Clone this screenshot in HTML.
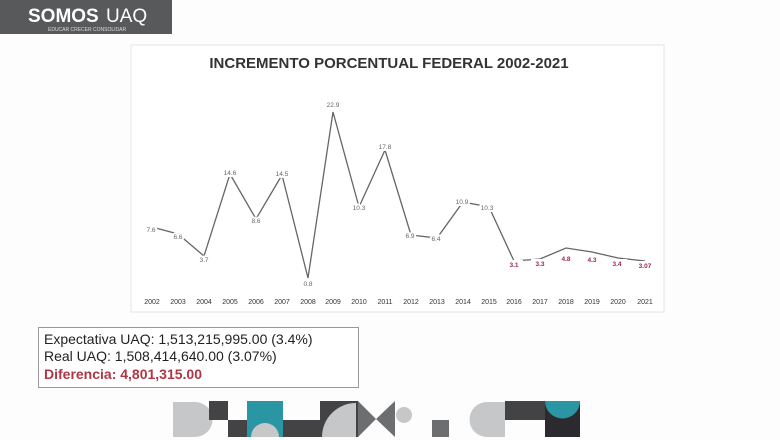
<!DOCTYPE html>
<html><head><meta charset="utf-8"><style>
body{margin:0;width:780px;height:440px;background:#fdfdfd;overflow:hidden;font-family:"Liberation Sans",sans-serif}
</style></head><body>
<svg width="780" height="440" viewBox="0 0 780 440" xmlns="http://www.w3.org/2000/svg" style="position:absolute;left:0;top:0">
<rect x="0" y="0" width="172" height="34" fill="#58595b"/>
<text x="28" y="22" font-family="Liberation Sans,sans-serif" font-weight="bold" font-size="19" fill="#fff">SOMOS</text>
<text x="106" y="22" font-family="Liberation Sans,sans-serif" font-size="19" fill="#fff">UAQ</text>
<text x="48" y="31" font-family="Liberation Sans,sans-serif" font-size="5" fill="#ddd">EDUCAR CRECER CONSOLIDAR</text>
<rect x="131" y="45" width="533" height="267" fill="#fff" stroke="#e4e4e4"/>
<text x="389" y="68" text-anchor="middle" font-family="Liberation Sans,sans-serif" font-weight="bold" font-size="15" fill="#333">INCREMENTO PORCENTUAL FEDERAL 2002-2021</text>
<polyline fill="none" stroke="#666" stroke-width="1.3" points="152,227 178,234 204,256 230,174 256,219 282,175 308,278 333,112 359,207 385,150 411,235 437,238 463,202 489,207 514,261 540,259 566,248 592,252 618,258 645,261"/>
<g font-family="Liberation Sans,sans-serif" font-size="6.5" fill="#666" text-anchor="middle" stroke="#fff" stroke-width="4" paint-order="stroke">
<text x="151" y="232">7.6</text><text x="178" y="239">6.6</text><text x="204" y="262">3.7</text>
<text x="230" y="175">14.6</text><text x="256" y="223">8.6</text><text x="282" y="176">14.5</text>
<text x="308" y="286">0.8</text><text x="333" y="107">22.9</text><text x="359" y="210">10.3</text>
<text x="385" y="149">17.8</text><text x="410" y="238">6.9</text><text x="436" y="241">6.4</text>
<text x="462" y="204">10.9</text><text x="487" y="210">10.3</text>
</g>
<g font-family="Liberation Sans,sans-serif" font-size="6.5" font-weight="bold" fill="#a0284a" text-anchor="middle">
<rect x="505" y="260" width="18" height="8" fill="#fff"/><text x="514" y="267">3.1</text>
<rect x="531" y="259" width="18" height="8" fill="#fff"/><text x="540" y="266">3.3</text>
<rect x="557" y="254" width="18" height="8" fill="#fff"/><text x="566" y="261">4.8</text>
<rect x="583" y="255" width="18" height="8" fill="#fff"/><text x="592" y="262">4.3</text>
<rect x="609" y="259" width="18" height="8" fill="#fff"/><text x="617" y="266">3.4</text>
<rect x="635" y="261" width="20" height="8" fill="#fff"/><text x="645" y="268">3.07</text>
</g>
<g font-family="Liberation Sans,sans-serif" font-size="7" fill="#333" text-anchor="middle">
<text x="152" y="304">2002</text><text x="178" y="304">2003</text><text x="204" y="304">2004</text><text x="230" y="304">2005</text><text x="256" y="304">2006</text><text x="282" y="304">2007</text><text x="308" y="304">2008</text><text x="333" y="304">2009</text><text x="359" y="304">2010</text><text x="385" y="304">2011</text><text x="411" y="304">2012</text><text x="437" y="304">2013</text><text x="463" y="304">2014</text><text x="489" y="304">2015</text><text x="514" y="304">2016</text><text x="540" y="304">2017</text><text x="566" y="304">2018</text><text x="592" y="304">2019</text><text x="618" y="304">2020</text><text x="645" y="304">2021</text>
</g>
<rect x="38.5" y="327.5" width="320" height="60" fill="#fff" stroke="#999"/>
<g font-family="Liberation Sans,sans-serif" font-size="14">
<text x="44" y="344" fill="#222">Expectativa UAQ: 1,513,215,995.00 (3.4%)</text>
<text x="44" y="361" fill="#222">Real UAQ: 1,508,414,640.00 (3.07%)</text>
<text x="44" y="379" fill="#b03545" font-weight="bold">Diferencia: 4,801,315.00</text>
</g>
<path d="M173,402 H195 A17,17 0 0 1 195,437 H173 Z" fill="#c6c7c9"/>
<rect x="209" y="401" width="19" height="19" fill="#434346"/>
<rect x="228" y="420" width="19" height="17" fill="#434346"/>
<rect x="247" y="401" width="36" height="36" fill="#2a96a3"/>
<path d="M251,437 A14,14 0 0 1 279,437 Z" fill="#c6c7c9"/>
<rect x="283" y="420" width="37" height="17" fill="#434346"/>
<rect x="320" y="401" width="38" height="36" fill="#434346"/>
<path d="M322,437 A34,34 0 0 1 356,403 V437 Z" fill="#c6c7c9"/>
<path d="M358,401 L376,419 L395,401 V437 L376,419 L358,437 Z" fill="#6d6e70"/>
<circle cx="404" cy="415" r="8" fill="#c6c7c9"/>
<rect x="432" y="420" width="17" height="17" fill="#6d6e70"/>
<path d="M505,402 H487 A17,17 0 0 0 487,437 H505 Z" fill="#c6c7c9"/>
<rect x="505" y="401" width="40" height="19" fill="#434346"/>
<rect x="545" y="401" width="35" height="36" fill="#2b2b2f"/>
<path d="M545,401 A17.5,17.5 0 0 0 580,401 Z" fill="#2a96a3"/>
</svg>
</body></html>
